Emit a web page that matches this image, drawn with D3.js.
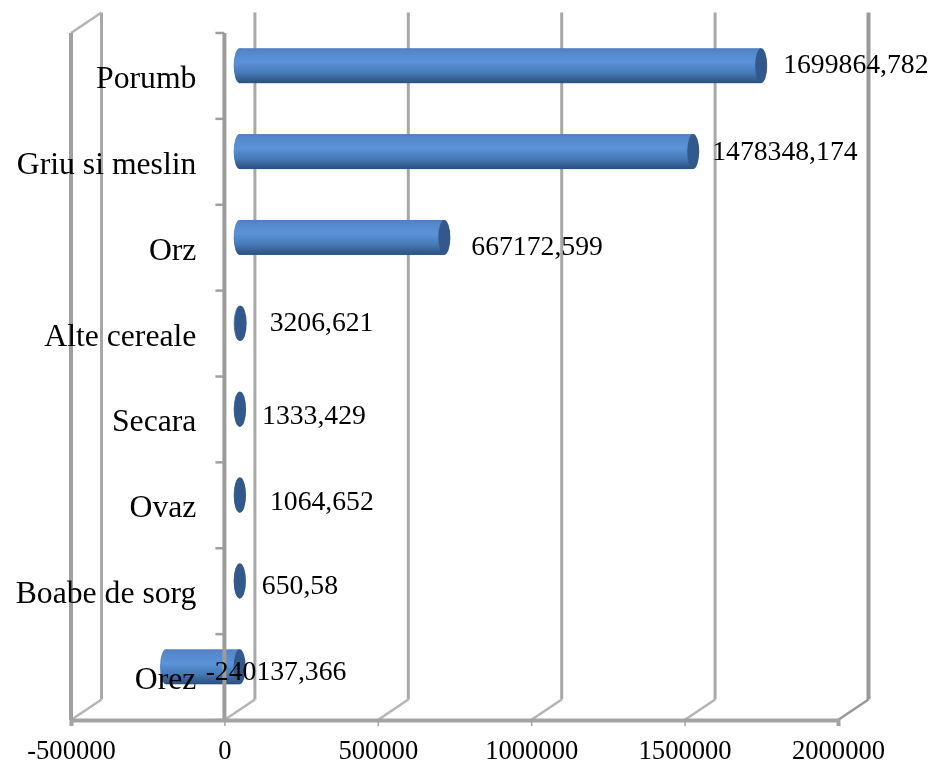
<!DOCTYPE html>
<html>
<head>
<meta charset="utf-8">
<script src="https://cdnjs.cloudflare.com/ajax/libs/d3/7.8.5/d3.min.js"></script>
<style>
  html,body{margin:0;padding:0;background:#fff}
  svg{display:block}
  text{font-family:"Liberation Serif",serif;fill:#000}
</style>
</head>
<body>
<div id="graph"></div>
<script>
// data
const categories=["Porumb","Griu si meslin","Orz","Alte cereale","Secara","Ovaz","Boabe de sorg","Orez"]
const values=[1699864.782,1478348.174,667172.599,3206.621,1333.429,1064.652,650.58,-240137.366]
const xTicks=[-500000,0,500000,1000000,1500000,2000000]
// data label nudges, the chart had them hand placed
const labelDx=[16,13,21,23,16,24,16,-40]
const labelDy=[-3,-2,7,-3,5,5,3,3]

const width=933,height=762
const svg=d3.select("#graph").append("svg").attr("width",width).attr("height",height)

// front plane of the 3d box
const plotLeft=71,plotRight=838,plotTop=33,plotBottom=720
const depthX=30.5,depthY=-20.5

const x=d3.scaleLinear().domain([-500000,2000000]).range([plotLeft,plotRight])
const y=d3.scaleBand().domain(categories).range([plotTop,plotBottom])

const defs=svg.append("defs")
const grad=defs.append("linearGradient").attr("id","cyl").attr("x1",0).attr("y1",0).attr("x2",0).attr("y2",1)
grad.append("stop").attr("offset","0%").attr("stop-color","#4f7fbe")
grad.append("stop").attr("offset","12%").attr("stop-color","#5488cc")
grad.append("stop").attr("offset","40%").attr("stop-color","#5b93d8")
grad.append("stop").attr("offset","70%").attr("stop-color","#467ab8")
grad.append("stop").attr("offset","100%").attr("stop-color","#2a4f7e")
defs.append("filter").attr("id","soft").append("feGaussianBlur").attr("stdDeviation",0.55)

const g=svg.append("g").attr("filter","url(#soft)")

// back wall lines + floor diagonals
g.selectAll(".grid").data(xTicks).enter().append("line").attr("class","grid")
  .attr("x1",d=>x(d)+depthX).attr("x2",d=>x(d)+depthX)
  .attr("y1",plotTop+depthY).attr("y2",plotBottom+depthY)
  .attr("stroke",d=>d==2000000?"#999":"#a8a8a8")
  .attr("stroke-width",d=>d==2000000?4:3)
g.selectAll(".floor").data(xTicks).enter().append("line").attr("class","floor")
  .attr("x1",d=>x(d)).attr("x2",d=>x(d)+depthX)
  .attr("y1",plotBottom).attr("y2",plotBottom+depthY)
  .attr("stroke",d=>d==2000000?"#999":"#b5b5b5").attr("stroke-width",2.6)
g.append("line").attr("x1",x(-500000)).attr("x2",x(-500000)+depthX)
  .attr("y1",plotTop).attr("y2",plotTop+depthY).attr("stroke","#b5b5b5").attr("stroke-width",2.6)
g.append("line").attr("x1",x(-500000)).attr("x2",x(-500000))
  .attr("y1",plotTop).attr("y2",plotBottom).attr("stroke","#a0a0a0").attr("stroke-width",4)

// cylinders
const rx=6,barH=35
const bars=g.selectAll(".bar").data(values).enter().append("g").attr("class","bar")
  .attr("transform",(d,i)=>`translate(0,${y(categories[i])+y.bandwidth()/2+depthY/2})`)
bars.append("ellipse")
  .attr("cx",d=>x(Math.min(0,d))+depthX/2).attr("cy",0).attr("rx",rx).attr("ry",barH/2)
  .attr("fill","url(#cyl)")
bars.append("rect")
  .attr("x",d=>x(Math.min(0,d))+depthX/2)
  .attr("width",d=>Math.abs(x(d)-x(0)))
  .attr("y",-barH/2).attr("height",barH)
  .attr("fill","url(#cyl)")
bars.append("ellipse")
  .attr("cx",d=>x(Math.max(0,d))+depthX/2).attr("cy",0).attr("rx",rx).attr("ry",barH/2)
  .attr("fill","#31598c")

// zero axis with category ticks
const yAxis=d3.axisLeft(y).tickSize(0).tickPadding(28).tickFormat(d=>d)
const yG=g.append("g").attr("transform",`translate(${x(0)},0)`).call(yAxis)
yG.select(".domain").remove()
yG.selectAll("text").style("font-size","31.7px").attr("dy",12)
g.selectAll(".ytick").data(d3.range(categories.length+1)).enter().append("line").attr("class","ytick")
  .attr("x1",x(0)-9).attr("x2",x(0))
  .attr("y1",i=>plotTop+i*y.step()).attr("y2",i=>plotTop+i*y.step())
  .attr("stroke","#a0a0a0").attr("stroke-width",2.5)
g.append("line").attr("x1",x(0)).attr("x2",x(0)).attr("y1",plotTop).attr("y2",plotBottom)
  .attr("stroke","#9c9c9c").attr("stroke-width",4)

// bottom axis
const xAxis=d3.axisBottom(x).tickValues(xTicks).tickFormat(d=>d).tickSize(6).tickPadding(14)
const xG=g.append("g").attr("transform",`translate(0,${plotBottom})`).call(xAxis)
xG.select(".domain").attr("stroke","#a3a3a3").attr("stroke-width",4)
xG.selectAll("line").attr("stroke","#a3a3a3").attr("stroke-width",1.5)
xG.selectAll("text").style("font-size","26.6px")

// value labels, decimal comma as in the picture
g.selectAll(".val").data(values).enter().append("text").attr("class","val")
  .attr("x",(d,i)=>x(Math.max(0,d))+depthX/2+rx+labelDx[i])
  .attr("y",(d,i)=>y(categories[i])+y.bandwidth()/2+labelDy[i])
  .style("font-size","27.7px")
  .text(d=>String(d).replace(".",","))
</script>
</body>
</html>
